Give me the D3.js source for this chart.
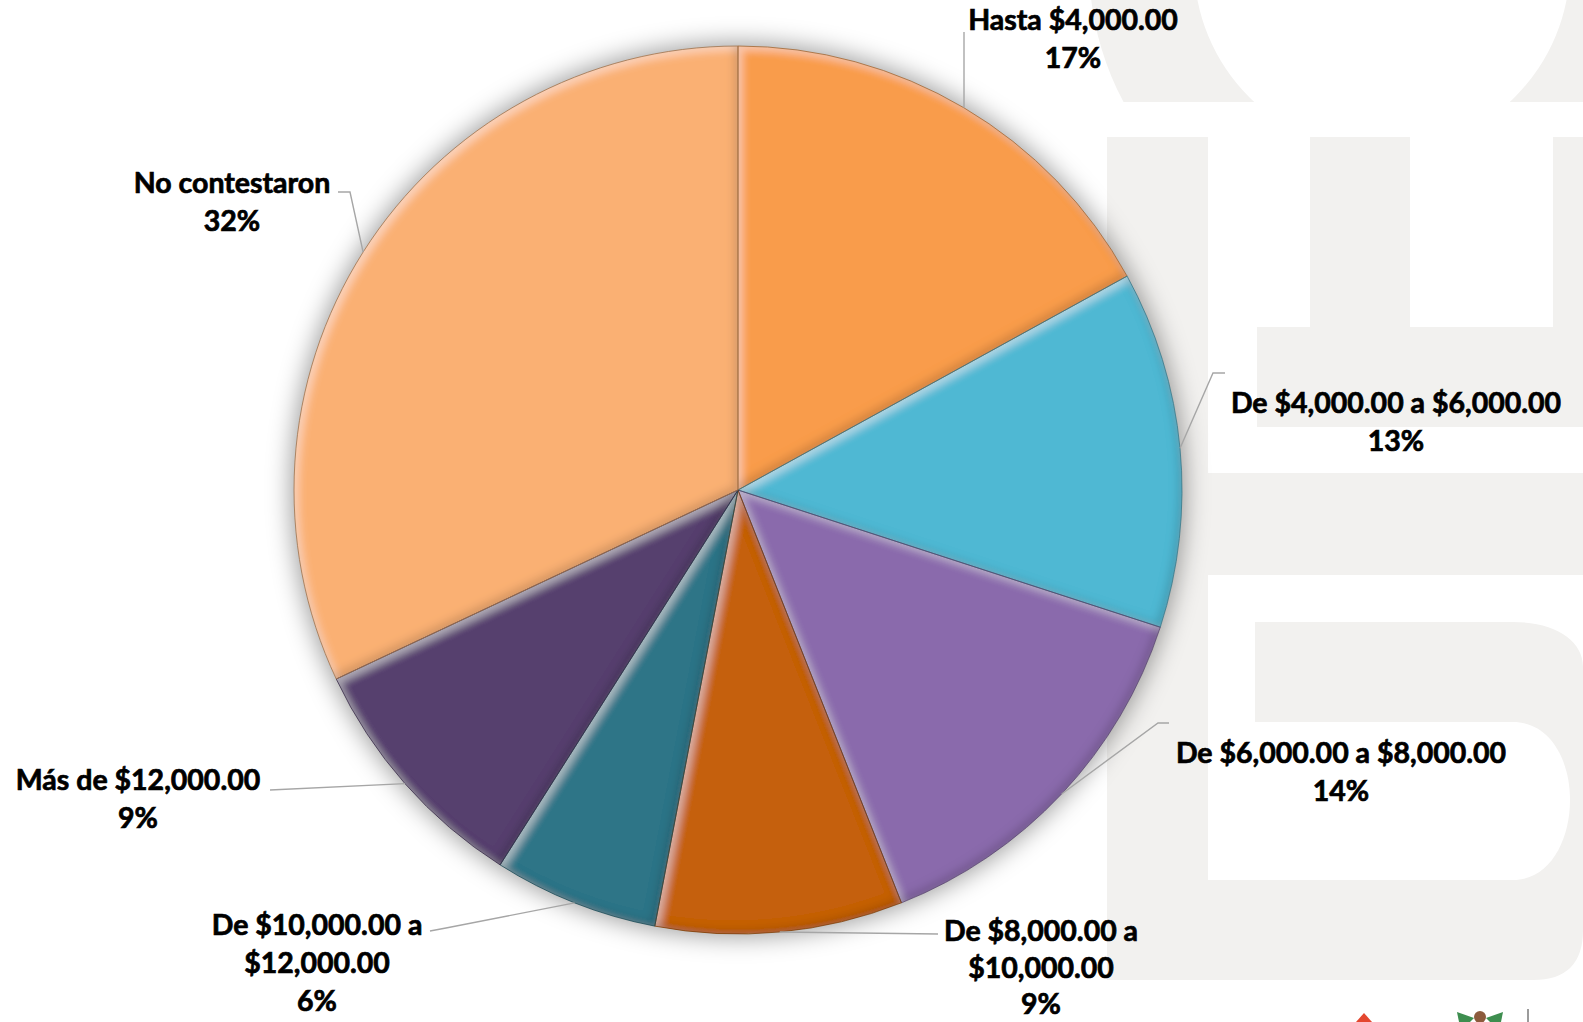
<!DOCTYPE html>
<html>
<head>
<meta charset="utf-8">
<script src="https://cdn.jsdelivr.net/npm/d3@7"></script>
<style>
  html, body { margin: 0; padding: 0; background: #ffffff; }
  svg { display: block; }
  text { font-family: Lato, "Open Sans", sans-serif; font-weight: 700; }
</style>
</head>
<body>
<svg id="chart" width="1583" height="1022"></svg>
<script>
// ---------- data ----------
const categories = [
  "Hasta $4,000.00",
  "De $4,000.00 a $6,000.00",
  "De $6,000.00 a $8,000.00",
  "De $8,000.00 a $10,000.00",
  "De $10,000.00 a $12,000.00",
  "Más de $12,000.00",
  "No contestaron"
];
const values = [17, 13, 14, 9, 6, 9, 32];
const labelLines = [
  ["Hasta $4,000.00"],
  ["De $4,000.00 a $6,000.00"],
  ["De $6,000.00 a $8,000.00"],
  ["De $8,000.00 a", "$10,000.00"],
  ["De $10,000.00 a", "$12,000.00"],
  ["Más de $12,000.00"],
  ["No contestaron"]
];
const colors = ["#F99C4C", "#50B8D3", "#8A6BAC", "#C5600E", "#2E7487", "#56406E", "#FAB073"];

// ---------- layout ----------
const W = 1583, H = 1022;
const cx = 738, cy = 490, R = 444;
const labelLayout = [
  { x: 1073, y: 30,  lh: 38, pts: [[964, 32]] },
  { x: 1396, y: 413, lh: 38, pts: [[1213, 373], [1225, 373]] },
  { x: 1341, y: 763, lh: 38, pts: [[1158, 723], [1169, 723]] },
  { x: 1041, y: 941, lh: 36.5, pts: [[938, 934]] },
  { x: 317,  y: 935, lh: 38, pts: [[446, 928], [430, 931]] },
  { x: 138,  y: 790, lh: 38, pts: [[270, 790]] },
  { x: 232,  y: 193, lh: 38, pts: [[350, 192], [338, 192]] }
];

const svg = d3.select("#chart");
const defs = svg.append("defs");

// ---------- watermark background ----------
const wm = svg.append("g").attr("fill", "#F2F1EF");
defs.append("clipPath").attr("id", "topClip")
  .append("rect").attr("x", 0).attr("y", 0).attr("width", W).attr("height", 102);
const ringPath = d3.path();
ringPath.arc(1382, -36, 293, 0, 2 * Math.PI);
ringPath.moveTo(1382 + 188, -36);
ringPath.arc(1382, -36, 188, 0, 2 * Math.PI);
wm.append("path").attr("d", ringPath.toString()).attr("fill-rule", "evenodd").attr("clip-path", "url(#topClip)");
wm.append("rect").attr("x", 1107).attr("y", 137).attr("width", 101).attr("height", 340);
wm.append("rect").attr("x", 1310).attr("y", 137).attr("width", 100).attr("height", 190);
wm.append("rect").attr("x", 1553).attr("y", 137).attr("width", 30).attr("height", 190);
wm.append("rect").attr("x", 1257).attr("y", 327).attr("width", 326).attr("height", 100);
wm.append("path").attr("d", "M1107,473 H1583 V930 Q1583,980 1533,980 H1107 Z");
const wmWhite = svg.append("g").attr("fill", "#ffffff");
wmWhite.append("path").attr("d", "M1208,575 H1583 V667 C1583,640 1555,622 1513,622 H1255 V880 H1208 Z");
wmWhite.append("path").attr("d", "M1208,722 H1513 C1550,722 1570,760 1570,800 C1570,840 1550,880 1513,880 H1208 Z");

// small partial logos at bottom right
const logos = svg.append("g");
logos.append("path").attr("d", "M1356,1022 L1364,1013 L1372,1022 Z").attr("fill", "#E4472F");
logos.append("path").attr("d", "M1457,1012 L1474,1018 L1470,1022 L1459,1022 Z").attr("fill", "#3E8E4F");
logos.append("path").attr("d", "M1503,1012 L1486,1018 L1490,1022 L1501,1022 Z").attr("fill", "#3E8E4F");
logos.append("circle").attr("cx", 1480).attr("cy", 1017).attr("r", 6).attr("fill", "#8C5A3C");
logos.append("line").attr("x1", 1528).attr("x2", 1528).attr("y1", 1009).attr("y2", 1022)
  .attr("stroke", "#7a7a7a").attr("stroke-width", 1.5);

// ---------- filters ----------
const shadow = defs.append("filter").attr("id", "pieShadow")
  .attr("x", "-20%").attr("y", "-20%").attr("width", "140%").attr("height", "140%");
shadow.append("feGaussianBlur").attr("stdDeviation", 12);

const bevel = defs.append("filter").attr("id", "bevel")
  .attr("x", "-5%").attr("y", "-5%").attr("width", "110%").attr("height", "110%");
bevel.append("feGaussianBlur").attr("in", "SourceAlpha").attr("stdDeviation", 4).attr("result", "b");
bevel.append("feOffset").attr("in", "b").attr("dx", 4).attr("dy", 4).attr("result", "bo1");
bevel.append("feComposite").attr("in", "SourceAlpha").attr("in2", "bo1").attr("operator", "arithmetic")
  .attr("k1", 0).attr("k2", 1).attr("k3", -1).attr("k4", 0).attr("result", "hiA");
bevel.append("feFlood").attr("flood-color", "#ffffff").attr("flood-opacity", 0.4).attr("result", "fw");
bevel.append("feComposite").attr("in", "fw").attr("in2", "hiA").attr("operator", "in").attr("result", "hi");
bevel.append("feOffset").attr("in", "b").attr("dx", -4).attr("dy", -4).attr("result", "bo2");
bevel.append("feComposite").attr("in", "SourceAlpha").attr("in2", "bo2").attr("operator", "arithmetic")
  .attr("k1", 0).attr("k2", 1).attr("k3", -1).attr("k4", 0).attr("result", "shA");
bevel.append("feFlood").attr("flood-color", "#000000").attr("flood-opacity", 0.3).attr("result", "fb");
bevel.append("feComposite").attr("in", "fb").attr("in2", "shA").attr("operator", "in").attr("result", "sh");
const merge = bevel.append("feMerge").attr("result", "m");
merge.append("feMergeNode").attr("in", "SourceGraphic");
merge.append("feMergeNode").attr("in", "hi");
merge.append("feMergeNode").attr("in", "sh");
bevel.append("feComposite").attr("in", "m").attr("in2", "SourceAlpha").attr("operator", "in");

// ---------- pie ----------
const pie = d3.pie().sort(null).value(d => d)(values);
const arc = d3.arc().innerRadius(0).outerRadius(R);
const rimArc = d3.arc().innerRadius(R).outerRadius(R);

const g = svg.append("g").attr("transform", `translate(${cx},${cy})`);
g.append("circle").attr("r", R + 3).attr("fill", "rgba(0,0,0,0.38)").attr("filter", "url(#pieShadow)");

g.selectAll("path.slice").data(pie).join("path")
  .attr("class", "slice")
  .attr("d", arc)
  .attr("fill", (d, i) => colors[i])
  .attr("filter", "url(#bevel)");

g.selectAll("path.edge").data(pie).join("path")
  .attr("class", "edge")
  .attr("d", arc)
  .attr("fill", "none")
  .attr("stroke", (d, i) => d3.color(colors[i]).darker(1.2))
  .attr("stroke-width", 1)
  .attr("stroke-opacity", 0.8);

// ---------- leader lines ----------
const leaders = svg.append("g");
pie.forEach((d, i) => {
  const c = rimArc.centroid(d);
  const start = [cx + c[0], cy + c[1]];
  const pts = [start].concat(labelLayout[i].pts);
  leaders.append("path")
    .attr("d", d3.line()(pts))
    .attr("fill", "none")
    .attr("stroke", "#A6A6A6")
    .attr("stroke-width", 1.4);
});

// ---------- labels ----------
const labels = svg.append("g");
pie.forEach((d, i) => {
  const L = labelLayout[i];
  const lines = labelLines[i].concat([values[i] + "%"]);
  const t = labels.append("text")
    .attr("x", L.x).attr("y", L.y)
    .attr("text-anchor", "middle")
    .attr("font-size", 28.5)
    .attr("fill", "#000000")
    .attr("stroke", "#000000")
    .attr("stroke-width", 0.7);
  lines.forEach((ln, k) => {
    t.append("tspan").attr("x", L.x).attr("y", L.y + k * L.lh).text(ln);
  });
});
</script>
</body>
</html>
